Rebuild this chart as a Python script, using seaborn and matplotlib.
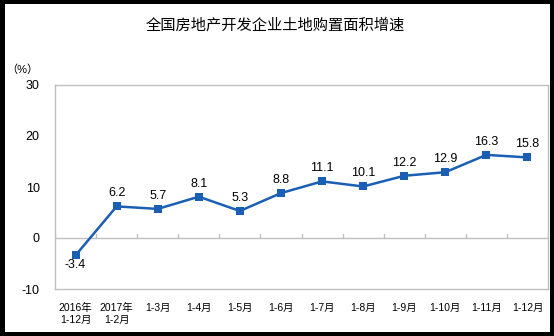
import matplotlib
matplotlib.use("Agg")
import matplotlib.pyplot as plt
from matplotlib.patches import Rectangle
import seaborn as sns
import pandas as pd

sns.set_theme(style="white")
plt.rcParams["font.family"] = ["Liberation Sans", "Noto Sans CJK SC", "DejaVu Sans"]

title = "全国房地产开发企业土地购置面积增速"
categories = ["2016年\n1-12月", "2017年\n1-2月", "1-3月", "1-4月", "1-5月", "1-6月",
              "1-7月", "1-8月", "1-9月", "1-10月", "1-11月", "1-12月"]
growth = [-3.4, 6.2, 5.7, 8.1, 5.3, 8.8, 11.1, 10.1, 12.2, 12.9, 16.3, 15.8]
y_ticks = [-10, 0, 10, 20, 30]

df = pd.DataFrame({"pos": range(len(categories)), "growth": growth})

line_color = "#1a5fb4"
frame_color = "#bfbfbf"

fig = plt.figure(figsize=(5.54, 3.36), dpi=100, facecolor="black")
W, H = 554, 336
fig.patches.append(Rectangle((5 / W, 4 / H), (550 - 5) / W, (332 - 4) / H,
                             transform=fig.transFigure, facecolor="white",
                             edgecolor="none", zorder=-5))

ax = fig.add_axes([55 / W, 47 / H, 493 / W, 204 / H])
ax.set_zorder(2)
ax.set_facecolor("white")

sns.lineplot(data=df, x="pos", y="growth", ax=ax, color=line_color, linewidth=1.8,
             marker="s", markersize=5.5, markeredgewidth=0, zorder=3)

ax.set_xlim(-0.5, len(categories) - 0.5)
ax.set_ylim(-10, 30)
ax.set_yticks(y_ticks)
ax.set_yticklabels([str(v) for v in y_ticks], fontsize=9, color="black")
ax.set_xticks(range(len(categories)))
ax.set_xticklabels(categories, fontsize=7.5, color="black", linespacing=1.3)
ax.tick_params(axis="x", length=0, pad=10)
ax.tick_params(axis="y", direction="in", length=4, color=frame_color, width=1, pad=11)
ax.set_xlabel("")
ax.set_ylabel("")

for s in ax.spines.values():
    s.set_color(frame_color)
    s.set_linewidth(1)

# category axis through zero with tick marks between categories
ax.axhline(0, color=frame_color, linewidth=1, zorder=1)
for b in range(len(categories) + 1):
    ax.plot([b - 0.5, b - 0.5], [0, 0.8], color=frame_color, linewidth=1, zorder=1)

for i, v in enumerate(growth):
    off = -10 if v < 0 else 13
    ax.annotate(f"{v:.1f}", (i, v), xytext=(0, off), textcoords="offset pixels",
                ha="center", va="center", fontsize=9, color="black")

t1 = fig.text(275 / W, 1 - 25 / H, title, ha="center", va="center", fontsize=11,
              color="black")
t2 = fig.text(22 / W, 1 - 70 / H, "（%）", ha="center", va="center", fontsize=8,
              color="black")
t1.set_zorder(3)
t2.set_zorder(3)

fig.savefig("out.png", dpi=100, facecolor="black")
